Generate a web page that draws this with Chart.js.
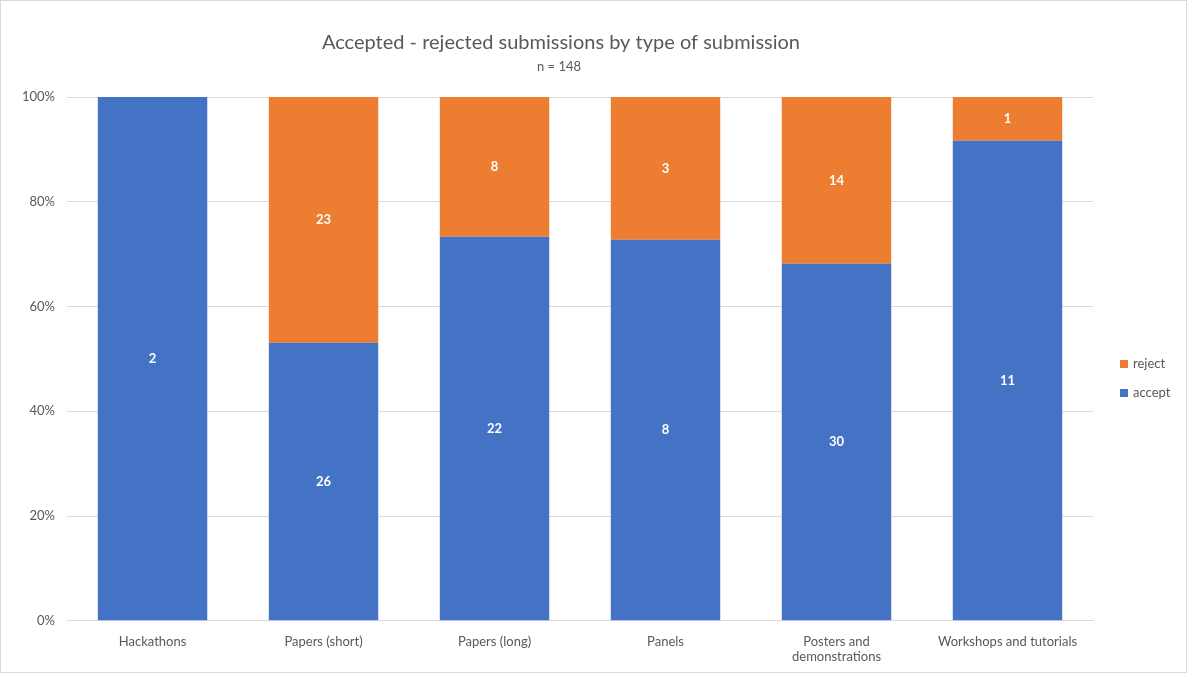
<!DOCTYPE html>
<html>
<head>
<meta charset="utf-8">
<script src="https://cdn.jsdelivr.net/npm/chart.js@4"></script>
<style>
  html, body { margin: 0; padding: 0; background: #fff; }
  #marco { width: 1185px; height: 671px; border: 1px solid #d9d9d9; }
</style>
</head>
<body>
<div id="marco"><canvas id="grafico"></canvas></div>
<script>
const categorias = [
  "Hackathons",
  "Papers (short)",
  "Papers (long)",
  "Panels",
  ["Posters and", "demonstrations"],
  "Workshops and tutorials",
];
const aceptados = [2, 26, 22, 8, 30, 11];
const rechazados = [0, 23, 8, 3, 14, 1];
const tituloTexto = "Accepted - rejected submissions by type of submission";
const subtituloTexto = "n = 148";

const totales = aceptados.map((v, i) => v + rechazados[i]);
const pctAceptados = aceptados.map((v, i) => (v / totales[i]) * 100);
const pctRechazados = rechazados.map((v, i) => (v / totales[i]) * 100);

const fuente = "Lato, 'Open Sans', sans-serif";
const gris = "#595959";

// titulo propio, Excel lo centra algo a la izquierda
const pluginTitulo = {
  id: "titulo",
  afterDraw(chart) {
    const ctx = chart.ctx;
    ctx.save();
    ctx.fillStyle = gris;
    ctx.textAlign = "center";
    ctx.textBaseline = "middle";
    ctx.font = "20px " + fuente;
    ctx.fillText(tituloTexto, 560, 42);
    ctx.font = "13px " + fuente;
    ctx.fillText(subtituloTexto, 558, 66);
    ctx.restore();
  },
};

// leyenda a la derecha, reject arriba
const pluginLeyenda = {
  id: "leyenda",
  afterDraw(chart) {
    const ctx = chart.ctx;
    const x = chart.chartArea.right + 27;
    ctx.save();
    ctx.font = "13px " + fuente;
    ctx.textBaseline = "middle";
    const lista = chart.data.datasets.slice().reverse();
    lista.forEach((ds, k) => {
      const y = 363 + k * 29;
      ctx.fillStyle = ds.backgroundColor;
      ctx.fillRect(x, y - 4, 8, 8);
      ctx.fillStyle = gris;
      ctx.fillText(ds.label, x + 13, y);
    });
    ctx.restore();
  },
};

// numeros dentro de cada segmento
const pluginEtiquetas = {
  id: "etiquetas",
  afterDatasetsDraw(chart) {
    const ctx = chart.ctx;
    ctx.save();
    ctx.fillStyle = "#ffffff";
    ctx.font = "bold 13px " + fuente;
    ctx.textAlign = "center";
    ctx.textBaseline = "middle";
    chart.data.datasets.forEach((ds, i) => {
      const meta = chart.getDatasetMeta(i);
      meta.data.forEach((barra, j) => {
        const cuenta = ds.cuentas[j];
        if (!cuenta) return;
        const centro = barra.getCenterPoint();
        ctx.fillText(String(cuenta), centro.x, centro.y);
      });
    });
    ctx.restore();
  },
};

const contexto = document.getElementById("grafico").getContext("2d");
const myGrafico = new Chart(contexto, {
  type: "bar",
  data: {
    labels: categorias,
    datasets: [
      {
        label: "accept",
        data: pctAceptados,
        cuentas: aceptados,
        backgroundColor: "#4472c4",
      },
      {
        label: "reject",
        data: pctRechazados,
        cuentas: rechazados,
        backgroundColor: "#ed7d31",
      },
    ],
  },
  options: {
    responsive: true,
    maintainAspectRatio: false,
    animation: false,
    layout: { padding: { top: 96, left: 9, right: 93, bottom: 2 } },
    scales: {
      x: {
        stacked: true,
        grid: { display: false },
        border: { display: true, color: "#d9d9d9" },
        ticks: { color: gris, font: { family: fuente, size: 13 }, maxRotation: 0, padding: 5 },
      },
      y: {
        stacked: true,
        min: 0,
        max: 100,
        ticks: {
          stepSize: 20,
          color: gris,
          font: { family: fuente, size: 13 },
          padding: 12,
          callback: (v) => v + "%",
        },
        grid: { color: "#d9d9d9", drawTicks: false },
        border: { display: false },
      },
    },
    datasets: { bar: { categoryPercentage: 1, barPercentage: 0.64 } },
    plugins: {
      legend: { display: false },
      tooltip: { enabled: false },
    },
  },
  plugins: [pluginTitulo, pluginLeyenda, pluginEtiquetas],
});
</script>
</body>
</html>
